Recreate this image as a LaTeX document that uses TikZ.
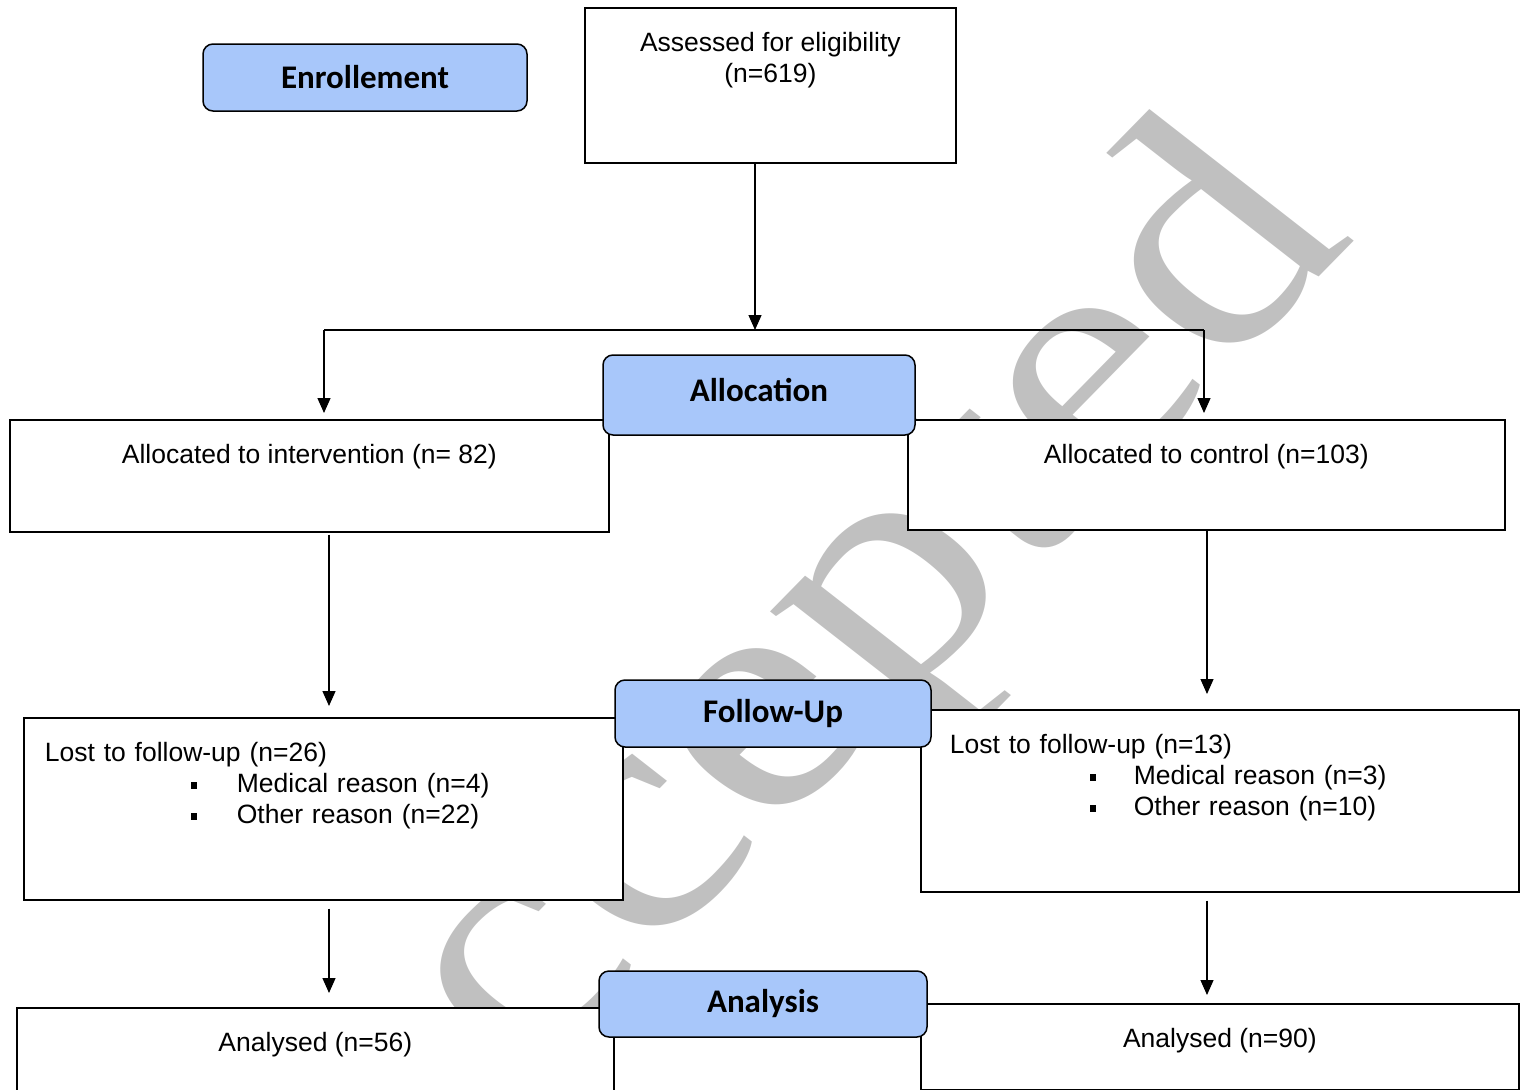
\documentclass[tikz,border=0pt]{standalone}
\usepackage{fontspec}
\setmainfont{Liberation Sans}
\newfontfamily\headfont{Carlito}
\newfontfamily\markfont{Liberation Serif}
\usetikzlibrary{arrows.meta}

\definecolor{headblue}{RGB}{168,199,250}
\definecolor{markgray}{RGB}{192,192,192}
\newcommand{\sqbullet}{\rule[4pt]{6.5pt}{6.5pt}}

\begin{document}
\begin{tikzpicture}[
    x=1pt, y=-1pt,
    font=\fontsize{26.5}{31}\selectfont,
    panel/.style={draw, fill=white, line width=1.7pt, anchor=north west,
                  inner xsep=0pt, inner ysep=0pt, text height=44pt},
    stage/.style={draw, fill=headblue, line width=1.5pt, rounded corners=10pt,
                  font=\headfont\bfseries\fontsize{33}{36}\selectfont},
    flow/.style={-{Triangle[length=15pt, width=13pt]}, line width=1.3pt},
    link/.style={line width=1.3pt},
  ]
  \clip (0,0) rectangle (1527,1090);

  % --- watermark ------------------------------------------------------------
  \node[text=markgray, cm={0.907,0.925,-0.908,0.708,(0,0)}, anchor=base east,
        inner sep=0pt, font=\markfont\fontsize{300}{300}\selectfont]
    (stamp) at (1358,238) {Accepted};

  % --- boxes ----------------------------------------------------------------
  \node[panel, minimum width=371pt, text depth=111pt] (assessed) at (584,7)
    {\begin{tabular}[t]{@{}c@{}}Assessed for eligibility\\(n=619)\end{tabular}};

  \node[panel, minimum width=599pt, text depth=68pt] (interv) at (9,419)
    {Allocated to intervention (n= 82)};
  \node[panel, minimum width=597pt, text depth=66pt] (control) at (907,419)
    {Allocated to control (n=103)};

  \node[panel, inner xsep=21pt, text width=557pt, align=left,
        text depth=138pt] (lostL) at (23,717)
    {\begin{tabular}[t]{@{}l@{}}
       Lost to follow-up (n=26)\\
       \hspace*{146pt}\makebox[46pt][l]{\sqbullet}Medical reason (n=4)\\
       \hspace*{146pt}\makebox[46pt][l]{\sqbullet}Other reason (n=22)
     \end{tabular}};
  \node[panel, inner xsep=29pt, text width=540pt, align=left,
        text depth=138pt] (lostR) at (920,709)
    {\begin{tabular}[t]{@{}l@{}}
       Lost to follow-up (n=13)\\
       \hspace*{140pt}\makebox[44pt][l]{\sqbullet}Medical reason (n=3)\\
       \hspace*{140pt}\makebox[44pt][l]{\sqbullet}Other reason (n=10)
     \end{tabular}};

  \node[panel, minimum width=597pt, text depth=100pt] (analysedL) at (16,1007)
    {Analysed (n=56)};
  \node[panel, minimum width=598pt, text depth=42pt] (analysedR) at (920,1003)
    {Analysed (n=90)};

  % --- arrows ---------------------------------------------------------------
  \coordinate (split) at (755,330);
  \coordinate (splitL) at (324,330);
  \coordinate (splitR) at (1204,330);
  \coordinate (colL) at (329,0);
  \coordinate (colR) at (1207,0);

  \draw[flow] (assessed.south -| split) -- (split);
  \draw[link] (splitL) -- (splitR);
  \draw[flow, shorten >=6pt] (splitL) -- (splitL |- interv.north);
  \draw[flow, shorten >=6pt] (splitR) -- (splitR |- control.north);

  \draw[flow, shorten <=2pt, shorten >=11pt] (interv.south -| colL) -- (lostL.north -| colL);
  \draw[flow, shorten >=15pt] (control.south -| colR) -- (lostR.north -| colR);
  \draw[flow, shorten <=8pt, shorten >=14pt] (lostL.south -| colL) -- (analysedL.north -| colL);
  \draw[flow, shorten <=8pt, shorten >=8pt] (lostR.south -| colR) -- (analysedR.north -| colR);

  % --- stage headers ----------------------------------------------------------
  \node[stage, minimum width=324pt, minimum height=67pt] (enrol) at (365,77.5) {Enrollement};
  \node[stage, minimum width=312pt, minimum height=80pt, text depth=10pt] (alloc) at (759,395) {Allocation};
  \node[stage, minimum width=316pt, minimum height=67pt] (follow) at (773,713.5) {Follow-Up};
  \node[stage, minimum width=328pt, minimum height=66pt] (analysis) at (763,1004) {Analysis};

\end{tikzpicture}
\end{document}
